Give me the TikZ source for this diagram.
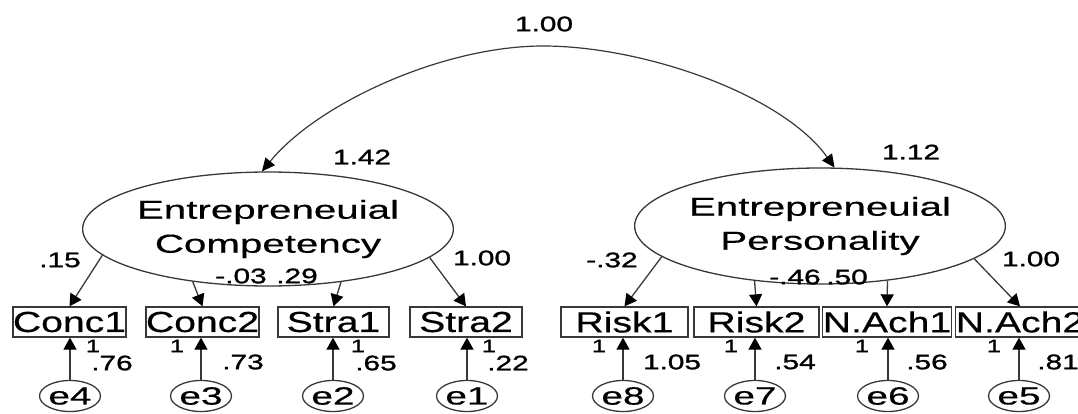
\documentclass[tikz,border=0pt]{standalone}
\usepackage{fontspec}
\setmainfont{Liberation Sans}[FakeStretch=1.55,FakeBold=0.5]
\newfontfamily\boxfont{Liberation Sans}[FakeStretch=1.35,FakeBold=0.5]
\newfontfamily\estfont{Liberation Sans}[FakeStretch=1.42,FakeBold=1.4]
\usetikzlibrary{shapes.geometric,arrows.meta}
\definecolor{edge}{HTML}{383838}
\begin{document}
\begin{tikzpicture}[x=1pt,y=-1pt,
  lat/.style={ellipse,draw=edge,line width=1.3pt,inner sep=0pt,align=center,
              font=\fontsize{26}{34}\selectfont},
  obs/.style={rectangle,draw=edge,line width=1.3pt,inner sep=0pt,minimum height=30pt,
              font=\boxfont\fontsize{29}{30}\selectfont},
  err/.style={ellipse,draw=edge,line width=1.3pt,inner sep=0pt,minimum width=50pt,
              minimum height=31pt,font=\fontsize{25}{28}\selectfont},
  num/.style={inner sep=0pt,font=\estfont\fontsize{21}{24}\selectfont},
  unit/.style={inner sep=0pt,font=\estfont\fontsize{18}{20}\selectfont},
  arr/.style={draw=edge,line width=1.3pt,-{Triangle[length=12pt,width=13pt,color=black]}},
  cov/.style={draw=edge,line width=1.2pt,
              {Triangle[length=13pt,width=12pt,color=black]}-{Triangle[length=13pt,width=12pt,color=black]}}]
\useasboundingbox (0,0) rectangle (1078,414);

% latent factors
\node[lat,minimum width=316pt,minimum height=114pt] (EC) at (268,229) {Entrepreneuial\\Competency};
\node[lat,minimum width=296pt,minimum height=116pt] (EP) at (820,226) {Entrepreneuial\\Personality};

% observed indicators
\node[obs,minimum width=112pt] (Conc1) at (69.5,322) {Conc1};
\node[obs,minimum width=113pt] (Conc2) at (202.5,322) {Conc2};
\node[obs,minimum width=111pt] (Stra1) at (333.5,322) {Stra1};
\node[obs,minimum width=112pt] (Stra2) at (466,322) {Stra2};
\node[obs,minimum width=127pt] (Risk1) at (624.5,322) {Risk1};
\node[obs,minimum width=125pt] (Risk2) at (756.5,322) {Risk2};
\node[obs,minimum width=126pt] (NAch1) at (887,322) {N.Ach1};
\node[obs,minimum width=128pt] (NAch2) at (1020,322) {N.Ach2};

% error terms
\node[err] (e4) at (70,396) {e4};
\node[err] (e3) at (201,396) {e3};
\node[err] (e2) at (333,396) {e2};
\node[err] (e1) at (467,396) {e1};
\node[err] (e8) at (623,396) {e8};
\node[err] (e7) at (755,396) {e7};
\node[err] (e6) at (888,396) {e6};
\node[err] (e5) at (1019,396) {e5};

% covariance between the factors
\coordinate (apex) at (543,46);
\draw[cov] (EC.96) .. controls (318,103) and (443,46) .. (apex)
           .. controls (643,46) and (782,94) .. (EP.76);

% loadings
\draw[arr] (EC.189.7) -- (Conc1.north);
\draw[arr] (EC.215.2) -- (Conc2.north);
\draw[arr] (EC.324.8) -- (Stra1.north);
\draw[arr] (EC.350.2) -- (Stra2.north);
\draw[arr] (EP.191.5) -- (Risk1.north);
\draw[arr] (EP.220.2) -- (Risk2.north);
\draw[arr] (EP.321.4) -- (NAch1.north);
\draw[arr] (EP.348.7) -- (NAch2.north);

% error paths
\foreach \e/\v in {e4/Conc1,e3/Conc2,e2/Stra1,e1/Stra2,e8/Risk1,e7/Risk2,e6/NAch1,e5/NAch2}
  \draw[arr] (\e.north) -- (\e.north |- \v.south);

% estimates
\node[num] (rcov) at (544,24) {1.00};
\node[num] (vEC) at (362,157) {1.42};
\node[num] (vEP) at (911,152) {1.12};
\node[num] (lConc1) at (60,260) {.15};
\node[num] (lConc2) at (241,276) {-.03};
\node[num] (lStra1) at (297,276) {.29};
\node[num] (lStra2) at (482,258) {1.00};
\node[num] (lRisk1) at (612,260) {-.32};
\node[num] (lRisk2) at (795,277) {-.46};
\node[num] (lNAch1) at (847,277) {.50};
\node[num] (lNAch2) at (1031,259) {1.00};

% fixed error weights
\node[unit] (w4) at (93,346) {1};
\node[unit] (w3) at (177,346) {1};
\node[unit] (w2) at (358,346) {1};
\node[unit] (w1) at (489,346) {1};
\node[unit] (w8) at (599,346) {1};
\node[unit] (w7) at (731,346) {1};
\node[unit] (w6) at (862,346) {1};
\node[unit] (w5) at (994,346) {1};

% error variances
\node[num] (v4) at (112,363) {.76};
\node[num] (v3) at (243,362) {.73};
\node[num] (v2) at (376,363) {.65};
\node[num] (v1) at (508,363) {.22};
\node[num] (v8) at (672,362) {1.05};
\node[num] (v7) at (795,362) {.54};
\node[num] (v6) at (927,362) {.56};
\node[num] (v5) at (1058,362) {.81};
\end{tikzpicture}
\end{document}
